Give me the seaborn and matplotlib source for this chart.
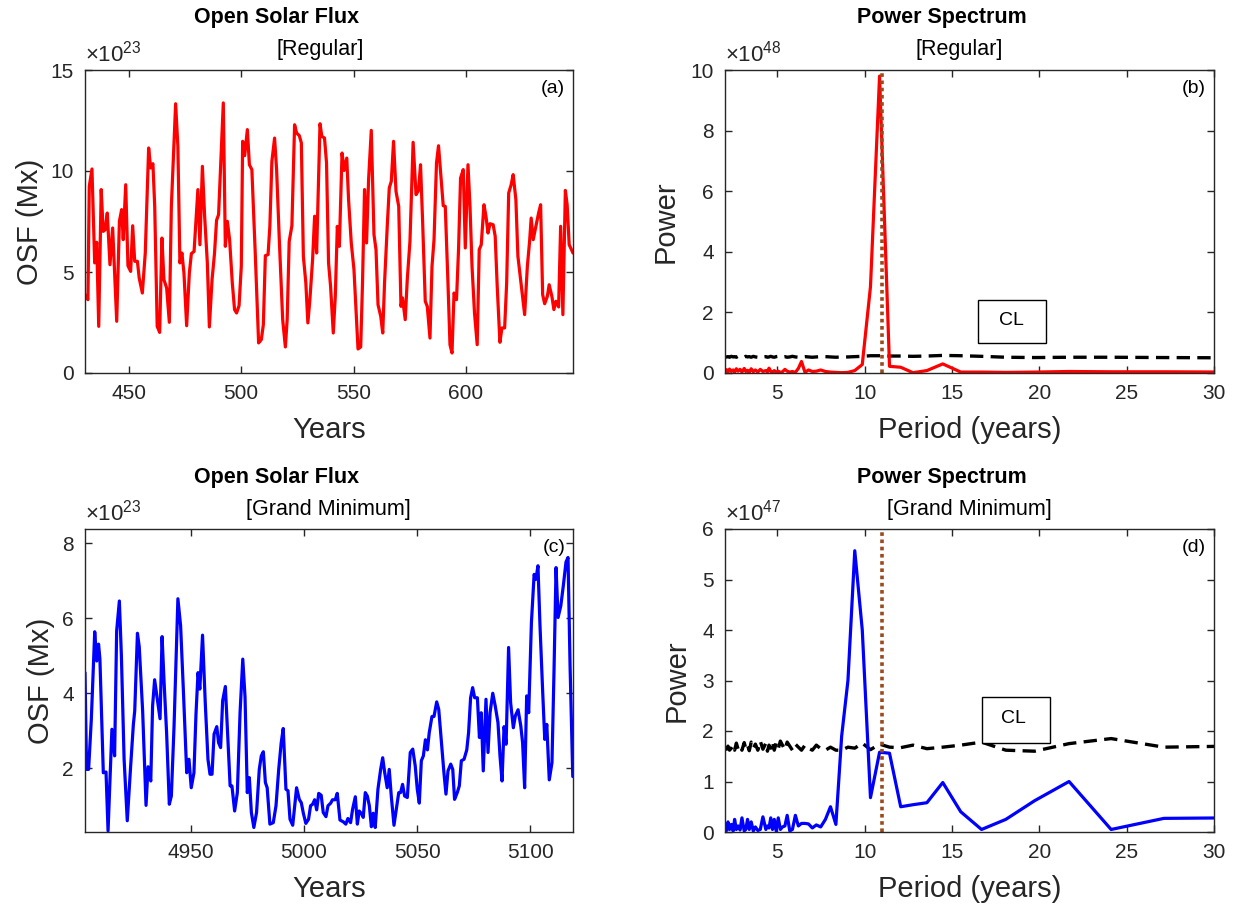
import matplotlib
matplotlib.use("Agg")
import matplotlib.pyplot as plt
import seaborn as sns
from matplotlib.patches import Rectangle

# ---------------- data ----------------
# Open solar flux, regular epoch (units of 1e23 Mx)
years_reg = [430.6, 431.9, 432.5, 433.7, 434.9, 435.8, 436.7, 437.8, 438.7, 439.6,
             440.5, 441.7, 442.9, 444.7, 445.9, 446.9, 447.6, 448.7, 449.7, 450.9,
             451.8, 452.7, 453.9, 454.7, 456.1, 457.4, 458.9, 459.8, 460.8, 461.6,
             462.7, 463.8, 464.8, 465.7, 466.9, 468.1, 469.0, 470.9, 471.9, 472.8,
             473.7, 474.6, 475.8, 477.0, 477.9, 479.1, 480.8, 481.7, 482.8, 483.8,
             485.0, 485.9, 487.1, 488.2, 489.1, 490.0, 490.9, 492.1, 493.0, 493.9,
             494.9, 496.1, 497.1, 498.0, 499.1, 500.1, 500.7, 501.6, 502.8, 503.7,
             504.8, 506.3, 507.8, 509.0, 509.9, 510.8, 512.0, 512.8, 513.7, 514.9,
             515.8, 517.0, 518.5, 519.7, 520.5, 521.4, 522.6, 523.8, 524.7, 525.9,
             526.8, 527.7, 528.8, 529.7, 530.6, 531.8, 532.7, 533.6, 535.1, 535.9,
             537.1, 538.0, 538.9, 539.8, 541.0, 541.9, 542.8, 543.7, 544.9, 545.8,
             547.0, 547.8, 549.0, 550.2, 551.1, 552.0, 553.2, 554.0, 554.9, 555.8,
             556.7, 557.9, 559.1, 560.0, 560.9, 562.1, 563.0, 563.8, 565.0, 565.9,
             566.8, 567.8, 568.9, 570.1, 571.1, 571.8, 573.0, 573.9, 575.1, 576.5,
             577.8, 578.9, 579.8, 580.7, 581.9, 582.8, 584.0, 584.9, 585.8, 586.9,
             587.8, 589.0, 589.9, 590.8, 592.0, 592.9, 593.8, 594.7, 595.8, 596.7,
             597.6, 598.8, 599.7, 600.9, 601.8, 602.7, 603.8, 605.0, 605.9, 606.8,
             608.0, 608.9, 609.8, 610.7, 612.1, 613.0, 613.9, 615.1, 616.0, 617.2,
             618.1, 619.0, 620.1, 621.0, 622.2, 623.1, 624.3, 626.1, 627.3, 628.3,
             629.0, 629.9, 631.1, 632.3, 633.2, 634.1, 635.0, 636.2, 637.0, 638.2,
             639.1, 640.0, 641.2, 642.1, 643.1, 644.2, 645.0, 645.9, 647.6]
osf_reg = [3.88, 3.63, 9.24, 10.1, 5.45, 6.47, 2.31, 9.08, 7.01, 7.1,
           7.92, 5.36, 7.18, 2.56, 7.51, 8.09, 6.6, 9.32, 5.31, 5.03,
           7.29, 5.53, 5.53, 4.7, 3.96, 5.94, 11.14, 10.15, 10.36, 8.25,
           2.31, 2.01, 6.68, 4.62, 4.21, 2.51, 8.25, 13.33, 11.22, 5.45,
           5.94, 4.95, 2.34, 4.95, 5.91, 6.02, 9.08, 6.35, 10.23, 7.76,
           5.45, 2.28, 4.62, 5.94, 7.56, 7.84, 10.23, 13.37, 6.27, 7.51,
           6.6, 4.46, 3.14, 2.97, 3.33, 5.28, 11.47, 10.76, 12.05, 10.31,
           10.07, 5.94, 1.49, 1.65, 2.39, 5.81, 5.86, 7.26, 10.48, 11.63,
           10.07, 6.6, 2.64, 1.29, 2.64, 6.52, 7.29, 12.29, 11.88, 11.75,
           11.39, 5.78, 4.46, 2.48, 3.63, 5.61, 7.76, 5.94, 12.34, 11.72,
           11.63, 10.4, 5.45, 4.29, 1.98, 3.8, 7.26, 6.27, 10.89, 10.03,
           10.64, 8.58, 6.44, 5.12, 3.14, 1.19, 1.29, 4.46, 9.08, 6.44,
           9.57, 12.01, 6.85, 6.11, 3.38, 2.81, 1.98, 4.46, 7.26, 9.16,
           9.49, 11.47, 8.99, 8.25, 3.3, 3.71, 2.64, 4.62, 6.52, 11.42,
           8.83, 9.04, 10.31, 7.59, 3.55, 3.3, 1.73, 5.28, 6.6, 10.4,
           11.25, 9.57, 8.28, 8.25, 4.46, 1.4, 0.99, 3.96, 3.63, 6.11,
           9.65, 10.07, 6.19, 10.31, 8.25, 5.28, 2.97, 1.4, 6.11, 6.35,
           8.33, 7.76, 6.93, 7.39, 7.34, 6.77, 4.29, 1.52, 2.23, 2.23,
           4.46, 8.91, 9.32, 9.82, 8.58, 5.78, 4.62, 2.89, 5.28, 6.52,
           7.67, 6.6, 7.26, 7.92, 8.33, 3.88, 3.43, 3.8, 4.37, 3.8,
           3.14, 3.55, 3.27, 7.26, 2.89, 9.04, 8.33, 6.35, 5.94]

# Open solar flux, grand-minimum epoch (units of 1e23 Mx)
years_gm = [4903.1, 4903.8, 4904.7, 4905.9, 4907.4, 4908.3, 4909.1, 4909.7, 4911.2, 4912.4,
            4913.3, 4915.0, 4916.2, 4917.1, 4918.3, 4919.2, 4920.4, 4921.8, 4923.3, 4924.5,
            4925.1, 4926.3, 4927.1, 4928.6, 4930.1, 4931.0, 4932.2, 4933.0, 4933.9, 4935.1,
            4936.3, 4937.2, 4938.1, 4939.2, 4940.4, 4941.3, 4942.5, 4943.4, 4944.2, 4945.4,
            4946.6, 4948.1, 4949.1, 4950.1, 4951.3, 4952.2, 4953.1, 4953.9, 4955.1, 4956.3,
            4957.5, 4958.4, 4959.3, 4960.2, 4961.4, 4962.2, 4963.1, 4964.0, 4965.2, 4966.4,
            4967.3, 4968.1, 4969.3, 4970.5, 4971.7, 4972.9, 4973.9, 4974.9, 4975.8, 4976.7,
            4977.8, 4979.0, 4980.2, 4981.1, 4982.0, 4982.9, 4983.7, 4984.9, 4986.4, 4987.6,
            4988.8, 4989.9, 4990.8, 4992.0, 4992.9, 4993.8, 4995.0, 4995.8, 4996.7, 4997.9,
            4998.8, 4999.7, 5000.8, 5002.0, 5002.9, 5003.8, 5004.7, 5005.6, 5006.5, 5007.6,
            5008.5, 5009.7, 5010.6, 5011.8, 5012.6, 5013.8, 5014.7, 5015.9, 5017.4, 5018.5,
            5019.4, 5020.6, 5021.5, 5022.7, 5023.6, 5024.4, 5025.3, 5026.2, 5027.1, 5028.0,
            5028.9, 5029.8, 5030.6, 5031.5, 5032.7, 5033.9, 5034.8, 5035.7, 5036.8, 5037.7,
            5038.6, 5039.8, 5040.7, 5041.9, 5042.7, 5043.6, 5044.5, 5045.7, 5047.0, 5048.1,
            5049.2, 5050.1, 5051.0, 5051.9, 5052.8, 5053.7, 5054.6, 5055.4, 5056.6, 5057.5,
            5058.7, 5059.6, 5060.7, 5061.9, 5062.8, 5063.7, 5064.9, 5065.8, 5066.6, 5067.8,
            5068.7, 5069.6, 5070.8, 5072.0, 5072.8, 5073.7, 5074.6, 5075.5, 5076.7, 5077.6,
            5078.4, 5079.3, 5080.5, 5081.4, 5082.3, 5083.5, 5084.6, 5085.8, 5086.7, 5087.6,
            5088.5, 5089.4, 5090.5, 5091.4, 5092.6, 5093.5, 5094.7, 5095.9, 5096.7, 5097.6,
            5098.5, 5099.4, 5100.6, 5101.8, 5102.6, 5103.5, 5104.4, 5105.6, 5106.5, 5107.4,
            5108.5, 5109.7, 5110.6, 5111.5, 5112.4, 5113.6, 5114.7, 5115.9, 5116.8, 5117.7,
            5118.9]
osf_gm = [4.55, 1.97, 1.97, 3.31, 5.64, 4.86, 5.31, 4.91, 1.88, 1.9,
          0.33, 3.04, 2.33, 5.66, 6.46, 5.0, 2.24, 0.6, 2.06, 3.17,
          3.53, 5.6, 5.24, 3.53, 1.01, 2.04, 1.66, 3.66, 4.36, 3.84,
          3.32, 5.51, 4.28, 2.95, 1.04, 1.26, 3.13, 4.95, 6.52, 5.8,
          4.11, 1.88, 2.24, 1.48, 1.88, 3.44, 4.55, 4.11, 5.55, 3.75,
          2.24, 1.84, 1.84, 2.91, 3.11, 2.68, 2.55, 3.8, 4.18, 2.68,
          1.53, 1.53, 0.86, 1.35, 3.48, 4.91, 3.9, 1.35, 1.75, 0.82,
          0.42, 0.82, 1.97, 2.33, 2.44, 1.62, 1.48, 0.51, 0.55, 1.0,
          1.97, 2.68, 3.06, 1.44, 1.4, 0.64, 0.48, 0.95, 1.48, 1.17,
          1.08, 0.8, 0.53, 0.64, 1.0, 1.04, 1.16, 0.89, 1.33, 1.28,
          0.82, 0.71, 1.0, 1.07, 1.16, 1.16, 1.33, 0.62, 0.57, 0.51,
          0.66, 0.55, 0.91, 1.24, 0.51, 0.86, 0.8, 0.69, 1.35, 1.26,
          1.0, 0.44, 0.8, 0.42, 1.44, 1.97, 2.28, 1.88, 1.48, 1.97,
          1.26, 0.48, 0.86, 1.35, 1.35, 1.57, 1.26, 1.22, 2.42, 2.51,
          2.06, 1.44, 1.07, 2.2, 2.33, 2.76, 2.49, 2.95, 3.38, 3.38,
          3.77, 3.57, 2.77, 1.88, 1.31, 1.93, 2.11, 1.97, 1.17, 1.35,
          1.53, 2.2, 2.24, 2.49, 2.95, 3.88, 4.15, 3.88, 3.88, 2.82,
          3.48, 1.93, 3.84, 2.42, 3.48, 4.0, 3.66, 3.22, 2.33, 1.66,
          3.11, 2.64, 5.22, 3.75, 3.08, 3.4, 3.56, 3.13, 2.68, 1.48,
          3.93, 3.48, 5.88, 7.17, 7.04, 7.4, 5.8, 4.02, 2.77, 3.17,
          1.69, 2.15, 4.6, 7.35, 6.02, 6.33, 6.86, 7.5, 7.62, 4.73,
          1.78]

# Power spectra: periods (years)
period = [31.0, 27.13, 24.11, 21.7, 19.73, 18.08, 16.69, 15.5, 14.47, 13.56,
          12.76, 12.06, 11.42, 10.85, 10.33, 9.86, 9.43, 9.04, 8.68, 8.35,
          8.04, 7.75, 7.48, 7.23, 7.0, 6.78, 6.58, 6.38, 6.2, 6.03,
          5.86, 5.71, 5.56, 5.43, 5.29, 5.17, 5.05, 4.93, 4.82, 4.72,
          4.62, 4.52, 4.43, 4.34, 4.17, 4.02, 3.88, 3.74, 3.62, 3.5,
          3.39, 3.29, 3.19, 3.1, 2.97, 2.86, 2.75, 2.65, 2.55, 2.47,
          2.36, 2.26, 2.17, 2.09, 2.01]
# regular epoch power (units of 1e48) and confidence level
power_reg = [0.03, 0.04, 0.04, 0.05, 0.03, 0.02, 0.03, 0.03, 0.30, 0.08,
             0.01, 0.19, 0.22, 9.8, 2.85, 0.28, 0.08, 0.02, 0.01, 0.02,
             0.03, 0.05, 0.10, 0.06, 0.05, 0.10, 0.02, 0.38, 0.15, 0.02,
             0.05, 0.03, 0.06, 0.12, 0.04, 0.02, 0.06, 0.03, 0.08, 0.02,
             0.05, 0.16, 0.03, 0.08, 0.05, 0.12, 0.03, 0.10, 0.04, 0.14,
             0.02, 0.09, 0.05, 0.15, 0.03, 0.12, 0.06, 0.14, 0.02, 0.10,
             0.05, 0.13, 0.03, 0.11, 0.05]
cl_reg = [0.50, 0.51, 0.52, 0.52, 0.51, 0.52, 0.55, 0.57, 0.58, 0.56,
          0.55, 0.56, 0.56, 0.57, 0.57, 0.55, 0.54, 0.53, 0.53, 0.52,
          0.53, 0.54, 0.54, 0.53, 0.52, 0.53, 0.54, 0.53, 0.52, 0.53,
          0.55, 0.53, 0.52, 0.54, 0.53, 0.52, 0.55, 0.54, 0.52, 0.53,
          0.55, 0.53, 0.52, 0.54, 0.53, 0.55, 0.52, 0.53, 0.55, 0.52,
          0.54, 0.53, 0.55, 0.52, 0.54, 0.53, 0.55, 0.52, 0.54, 0.53,
          0.55, 0.52, 0.54, 0.53, 0.52]
# grand-minimum epoch power (units of 1e47) and confidence level
power_gm = [0.28, 0.27, 0.05, 1.0, 0.62, 0.25, 0.05, 0.40, 0.98, 0.58,
            0.54, 0.50, 1.56, 1.58, 0.68, 4.0, 5.57, 3.0, 1.9, 0.15,
            0.50, 0.25, 0.10, 0.14, 0.08, 0.16, 0.17, 0.17, 0.12, 0.33,
            0.05, 0.02, 0.33, 0.12, 0.10, 0.05, 0.28, 0.02, 0.25, 0.05,
            0.28, 0.08, 0.12, 0.05, 0.30, 0.05, 0.03, 0.10, 0.02, 0.20,
            0.05, 0.25, 0.05, 0.02, 0.28, 0.04, 0.12, 0.05, 0.25, 0.02,
            0.15, 0.05, 0.20, 0.03, 0.12]
cl_gm = [1.70, 1.68, 1.85, 1.75, 1.60, 1.62, 1.78, 1.72, 1.68, 1.65,
         1.72, 1.67, 1.68, 1.74, 1.63, 1.76, 1.66, 1.68, 1.62, 1.62,
         1.68, 1.62, 1.65, 1.72, 1.62, 1.66, 1.72, 1.62, 1.68, 1.74,
         1.62, 1.70, 1.78, 1.63, 1.72, 1.80, 1.65, 1.76, 1.62, 1.79,
         1.66, 1.72, 1.60, 1.76, 1.64, 1.80, 1.62, 1.74, 1.66, 1.78,
         1.61, 1.72, 1.65, 1.77, 1.62, 1.70, 1.64, 1.76, 1.62, 1.72,
         1.66, 1.62, 1.70, 1.64, 1.66]
cycle_period = 11.0

# ---------------- style ----------------
sns.set_theme(style="white")
plt.rcParams['font.family'] = ['Liberation Sans', 'DejaVu Sans']
plt.rcParams['mathtext.fontset'] = 'custom'
plt.rcParams['mathtext.rm'] = 'Liberation Sans'
plt.rcParams['mathtext.it'] = 'Liberation Sans:italic'
plt.rcParams['mathtext.bf'] = 'Liberation Sans:bold'

DARK = '#262626'
W, H = 1234, 908
fig = plt.figure(figsize=(W / 100, H / 100), dpi=100)


def ax_at(left, top, right, bottom):
    return fig.add_axes([left / W, 1 - bottom / H, (right - left) / W, (bottom - top) / H])


def style(ax):
    for s in ax.spines.values():
        s.set_visible(True)
        s.set_color(DARK)
        s.set_linewidth(1.0)
    ax.tick_params(direction='in', length=5, width=1.0, top=True, right=True,
                   bottom=True, left=True, labelsize=15, colors=DARK, pad=8)
    ax.grid(False)


ax_a = ax_at(85, 70, 573, 373)
ax_b = ax_at(725, 70, 1214, 373)
ax_c = ax_at(85, 529, 573, 832)
ax_d = ax_at(725, 529, 1214, 832)

LW = 2.3
BROWN = '#9a4a1c'
# (a)
sns.lineplot(x=years_reg, y=osf_reg, ax=ax_a, color='#ff0000', lw=LW, estimator=None)
ax_a.set_xlim(430.6, 647.6)
ax_a.set_ylim(0, 15)
ax_a.set_xticks([450, 500, 550, 600])
ax_a.set_yticks([0, 5, 10, 15])
# (c)
sns.lineplot(x=years_gm, y=osf_gm, ax=ax_c, color='#0000ff', lw=LW, estimator=None)
ax_c.set_xlim(4903.1, 5119.0)
ax_c.set_ylim(0.3, 8.38)
ax_c.set_xticks([4950, 5000, 5050, 5100])
ax_c.set_yticks([2, 4, 6, 8])
# (b)
sns.lineplot(x=period, y=cl_reg, ax=ax_b, color='black', lw=2.4, estimator=None,
             dashes=False).lines[-1].set_dashes((4, 2.2))
sns.lineplot(x=period, y=power_reg, ax=ax_b, color='#ff0000', lw=LW, estimator=None)
ax_b.axvline(cycle_period, color=BROWN, lw=2.6, ls=(0, (1, 1)))
ax_b.set_xlim(2, 30)
ax_b.set_ylim(0, 10)
ax_b.set_xticks([5, 10, 15, 20, 25, 30])
ax_b.set_yticks([0, 2, 4, 6, 8, 10])
# (d)
sns.lineplot(x=period, y=cl_gm, ax=ax_d, color='black', lw=2.4, estimator=None,
             dashes=False).lines[-1].set_dashes((4, 2.2))
sns.lineplot(x=period, y=power_gm, ax=ax_d, color='#0000ff', lw=LW, estimator=None)
ax_d.axvline(cycle_period, color=BROWN, lw=2.6, ls=(0, (1, 1)))
ax_d.set_xlim(2, 30)
ax_d.set_ylim(0, 6)
ax_d.set_xticks([5, 10, 15, 20, 25, 30])
ax_d.set_yticks([0, 1, 2, 3, 4, 5, 6])

for ax, lab, xl, yl, mult, ypad in [(ax_a, '(a)', 'Years', 'OSF (Mx)', '23', 5),
                                    (ax_b, '(b)', 'Period (years)', 'Power', '48', 8),
                                    (ax_c, '(c)', 'Years', 'OSF (Mx)', '23', 5),
                                    (ax_d, '(d)', 'Period (years)', 'Power', '47', 8)]:
    style(ax)
    ax.set_xlabel(xl, fontsize=21, color=DARK, labelpad=9)
    ax.set_ylabel(yl, fontsize=21, color=DARK, labelpad=ypad)
    ax.text(0.984, 0.94, lab, transform=ax.transAxes, ha='right', va='center',
            fontsize=14, color='black')
    ax.text(0.0, 1.012, r'$\times\mathregular{10^{%s}}$' % mult, transform=ax.transAxes,
            ha='left', va='bottom', fontsize=16, color=DARK)

# CL boxes
for ax, (x0, y0, x1, y1), (tx, ty) in [(ax_b, (0.517, 0.099, 0.656, 0.241), (0.585, 0.172)),
                                       (ax_d, (0.526, 0.294, 0.665, 0.446), (0.589, 0.376))]:
    ax.add_patch(Rectangle((x0, y0), x1 - x0, y1 - y0, transform=ax.transAxes,
                           fill=True, facecolor='white', edgecolor='black', lw=1.0, zorder=5))
    ax.text(tx, ty, 'CL', transform=ax.transAxes, ha='center', va='center',
            fontsize=14, color='black', zorder=6)

# titles
def ftext(x, y, s, **kw):
    fig.text(x / W, 1 - y / H, s, ha='center', va='center', color='black', **kw)

ftext(277, 18, 'Open Solar Flux', fontsize=15.5, fontweight='bold')
ftext(320, 50, '[Regular]', fontsize=15.5)
ftext(942, 18, 'Power Spectrum', fontsize=15.5, fontweight='bold')
ftext(959, 50, '[Regular]', fontsize=15.5)
ftext(277, 478, 'Open Solar Flux', fontsize=15.5, fontweight='bold')
ftext(328, 510, '[Grand Minimum]', fontsize=15.5)
ftext(942, 478, 'Power Spectrum', fontsize=15.5, fontweight='bold')
ftext(969, 510, '[Grand Minimum]', fontsize=15.5)

fig.savefig('out.png', dpi=100, facecolor='white')
